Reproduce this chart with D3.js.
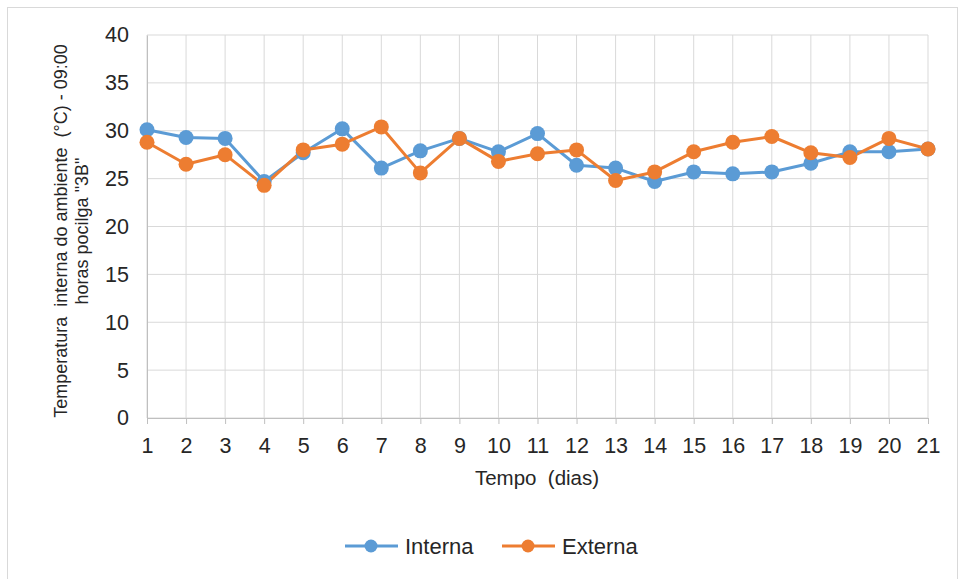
<!DOCTYPE html>
<html><head><meta charset="utf-8">
<script src="https://cdn.jsdelivr.net/npm/d3@7"></script>
<style>body{margin:0;background:#fff}svg{display:block}text{font-family:"Liberation Sans",Arial,sans-serif;fill:#262626;white-space:pre}</style>
</head><body>
<svg id="c" width="960" height="579"></svg>
<script>
const days = ["1","2","3","4","5","6","7","8","9","10","11","12","13","14","15","16","17","18","19","20","21"];
const interna = [30.1,29.3,29.2,24.7,27.7,30.2,26.1,27.9,29.2,27.8,29.7,26.4,26.1,24.7,25.7,25.5,25.7,26.6,27.8,27.8,28.1];
const externa = [28.8,26.5,27.5,24.3,28.0,28.6,30.4,25.6,29.2,26.8,27.6,28.0,24.8,25.7,27.8,28.8,29.4,27.7,27.2,29.2,28.1];
const yTicks = [0,5,10,15,20,25,30,35,40];
const seriesNames = ["Interna","Externa"];
const colors = ["#5B9BD5","#ED7D31"];

const svg = d3.select("#c");
svg.append("rect").attr("x",7.5).attr("y",7.5).attr("width",950).attr("height",600)
  .attr("fill","#fff").attr("stroke","#d9d9d9");

const L=147,R=928,T=35,B=418;
const x = d3.scalePoint().domain(days).range([L,R]).padding(0);
const y = d3.scaleLinear().domain([0,40]).range([B,T]);

const g = svg.append("g");
g.selectAll(".hg").data(yTicks).join("line")
  .attr("x1",L).attr("x2",R).attr("y1",d=>y(d)).attr("y2",d=>y(d))
  .attr("stroke","#d9d9d9").attr("stroke-width",1);
g.selectAll(".vg").data(days).join("line")
  .attr("x1",d=>x(d)).attr("x2",d=>x(d)).attr("y1",T).attr("y2",B)
  .attr("stroke","#d9d9d9").attr("stroke-width",1);

const ya = d3.axisLeft(y).tickValues(yTicks).tickSize(0).tickPadding(18);
const yg = svg.append("g").attr("transform",`translate(${L},0)`).call(ya);
yg.select(".domain").attr("stroke","#bfbfbf");
yg.selectAll("text").style("font-size","21.5px").attr("fill","#262626");

const xa = d3.axisBottom(x).tickSize(6).tickSizeOuter(0).tickPadding(14);
const xg = svg.append("g").attr("transform",`translate(0,${B})`).call(xa);
xg.select(".domain").attr("stroke","#bfbfbf");
xg.selectAll(".tick line").attr("stroke","#bfbfbf");
xg.selectAll("text").style("font-size","21.5px").attr("fill","#262626");

svg.append("text").attr("x",537).attr("y",485).attr("text-anchor","middle")
  .style("font-size","20.5px").text("Tempo  (dias)");
const yt = svg.append("text").attr("transform","translate(67,231) rotate(-90)")
  .attr("text-anchor","middle").style("font-size","18px");
yt.append("tspan").attr("x",0).attr("dy",0).text("Temperatura  interna do ambiente  (°C) - 09:00");
yt.append("tspan").attr("x",0).attr("dy",21).text("horas pocilga \"3B\"");

const data = [interna, externa];
const line = d3.line().x((d,i)=>x(days[i])).y(d=>y(d));
data.forEach((s,k)=>{
  svg.append("path").datum(s).attr("d",line).attr("fill","none")
    .attr("stroke",colors[k]).attr("stroke-width",3).attr("stroke-linejoin","round");
});
data.forEach((s,k)=>{
  svg.append("g").selectAll("circle").data(s).join("circle")
    .attr("cx",(d,i)=>x(days[i])).attr("cy",d=>y(d)).attr("r",7.5)
    .attr("fill",colors[k]);
});

const leg = [{x0:345,name:seriesNames[0],c:colors[0]},{x0:502,name:seriesNames[1],c:colors[1]}];
leg.forEach(l=>{
  const lg = svg.append("g");
  lg.append("line").attr("x1",l.x0).attr("x2",l.x0+53).attr("y1",546).attr("y2",546)
    .attr("stroke",l.c).attr("stroke-width",3);
  lg.append("circle").attr("cx",l.x0+26).attr("cy",546).attr("r",6.5).attr("fill",l.c);
  lg.append("text").attr("x",l.x0+60).attr("y",554).style("font-size","22px").text(l.name);
});
</script>
</body></html>
